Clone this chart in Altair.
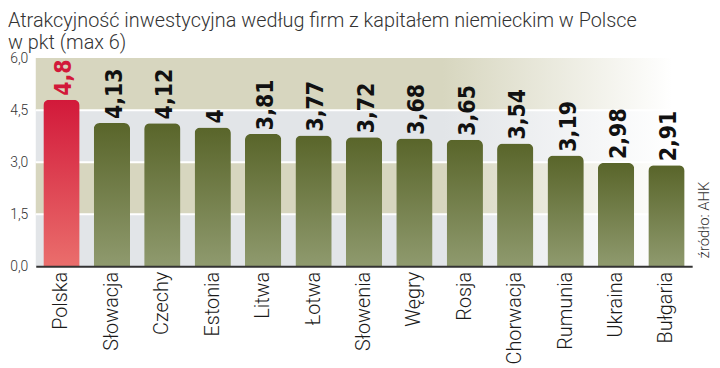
import altair as alt
import pandas as pd

countries = ["Polska", "Słowacja", "Czechy", "Estonia", "Litwa", "Łotwa", "Słowenia",
             "Węgry", "Rosja", "Chorwacja", "Rumunia", "Ukraina", "Bułgaria"]
values = [4.8, 4.13, 4.12, 4, 3.81, 3.77, 3.72, 3.68, 3.65, 3.54, 3.19, 2.98, 2.91]
band_lo = [0, 1.5, 3.0, 4.5]
band_hi = [1.5, 3.0, 4.5, 6.0]
band_kind = ["g", "b", "g", "b"]
grid_values = [1.5, 3.0, 4.5]
y_ticks = [0, 1.5, 3.0, 4.5, 6.0]
title_lines = ["Atrakcyjność inwestycyjna według  firm z kapitałem niemieckim w Polsce",
               "w pkt (max 6)"]
source_text = ["źródło: AHK"]

bars = pd.DataFrame({"country": countries, "v": values})
bars["label"] = [str(v).replace(".", ",") for v in values]
bands = pd.DataFrame({"lo": band_lo, "hi": band_hi, "kind": band_kind})
grid = pd.DataFrame({"y": grid_values})
src = pd.DataFrame({"t": source_text, "y0": [0]})

LIGHT = "Roboto"
NARROW = "Liberation Sans Narrow, Arial Narrow, DejaVu Sans Condensed, sans-serif"

yscale = alt.Scale(domain=[0, 6], nice=False)
yaxis = alt.Axis(values=y_ticks, title=None, grid=False, domain=False, ticks=False,
                 labelExpr="replace(format(datum.value, '.1f'), '.', ',')",
                 labelFont=LIGHT, labelFontWeight=300, labelFontSize=14,
                 labelColor="#333333", labelPadding=8)
xscale = alt.Scale(paddingInner=0.28, paddingOuter=0.15)
xaxis = alt.Axis(title=None, labelAngle=-90, ticks=False, domainColor="#333333",
                 domainWidth=2, labelFont=LIGHT, labelFontWeight=300, labelFontSize=20,
                 labelColor="#1a1a1a", labelPadding=5, zindex=1)


def hgrad(c):
    return alt.Gradient(gradient="linear", x1=0, x2=1, y1=0, y2=0,
                        stops=[alt.GradientStop(offset=0, color=c),
                               alt.GradientStop(offset=0.62, color=c),
                               alt.GradientStop(offset=0.97, color="#ffffff")])


def vgrad(top, bottom):
    return alt.Gradient(gradient="linear", x1=0, x2=0, y1=0, y2=1,
                        stops=[alt.GradientStop(offset=0, color=top),
                               alt.GradientStop(offset=1, color=bottom)])


band_base = alt.Chart(bands).encode(
    x=alt.value(0), x2=alt.value("width"),
    y=alt.Y("lo:Q", scale=yscale, axis=yaxis), y2="hi:Q")
band_b = band_base.transform_filter("datum.kind == 'b'").mark_rect(fill=hgrad("#d7d6bf"))
band_g = band_base.transform_filter("datum.kind == 'g'").mark_rect(fill=hgrad("#e2e5e8"))

rules = alt.Chart(grid).mark_rule(color="#ffffff", strokeWidth=2).encode(
    y=alt.Y("y:Q", scale=yscale, axis=yaxis))

bar_base = alt.Chart(bars).encode(
    x=alt.X("country:N", sort=countries, scale=xscale, axis=xaxis),
    y=alt.Y("v:Q", scale=yscale, axis=yaxis))
green = bar_base.transform_filter("datum.country != 'Polska'").mark_bar(
    fill=vgrad("#59652a", "#8f9a6e"), cornerRadiusTopLeft=6, cornerRadiusTopRight=6)
red = bar_base.transform_filter("datum.country == 'Polska'").mark_bar(
    fill=vgrad("#d2193a", "#ea6e6c"), cornerRadiusTopLeft=6, cornerRadiusTopRight=6)

labels = bar_base.mark_text(angle=270, align="left", baseline="middle", dx=4, dy=3,
                            font=NARROW, fontWeight="bold", fontSize=23).encode(
    text="label:N",
    color=alt.condition("datum.country == 'Polska'", alt.value("#d2193a"), alt.value("#111111")))

source = alt.Chart(src).mark_text(angle=270, align="left", baseline="middle", dx=8,
                                  font=LIGHT, fontWeight=300, fontSize=15,
                                  color="#333333").encode(
    x=alt.value(674), y=alt.Y("y0:Q", scale=yscale, axis=yaxis), text="t:N")

chart = alt.layer(band_b, band_g, rules, green, red, labels, source).properties(
    width=662, height=210,
    autosize=alt.AutoSizeParams(type="none"),
    padding={"left": 28, "top": 49, "right": 20, "bottom": 100},
    title=alt.Title(text=title_lines, anchor="start", frame="group", dx=-28,
                    font=LIGHT, fontWeight=300, fontSize=20, color="#333333",
                    lineHeight=22, offset=-2),
    background="#ffffff",
).configure_view(stroke=None)

chart.save("out.html", embed_options={"renderer": "svg", "actions": False})
